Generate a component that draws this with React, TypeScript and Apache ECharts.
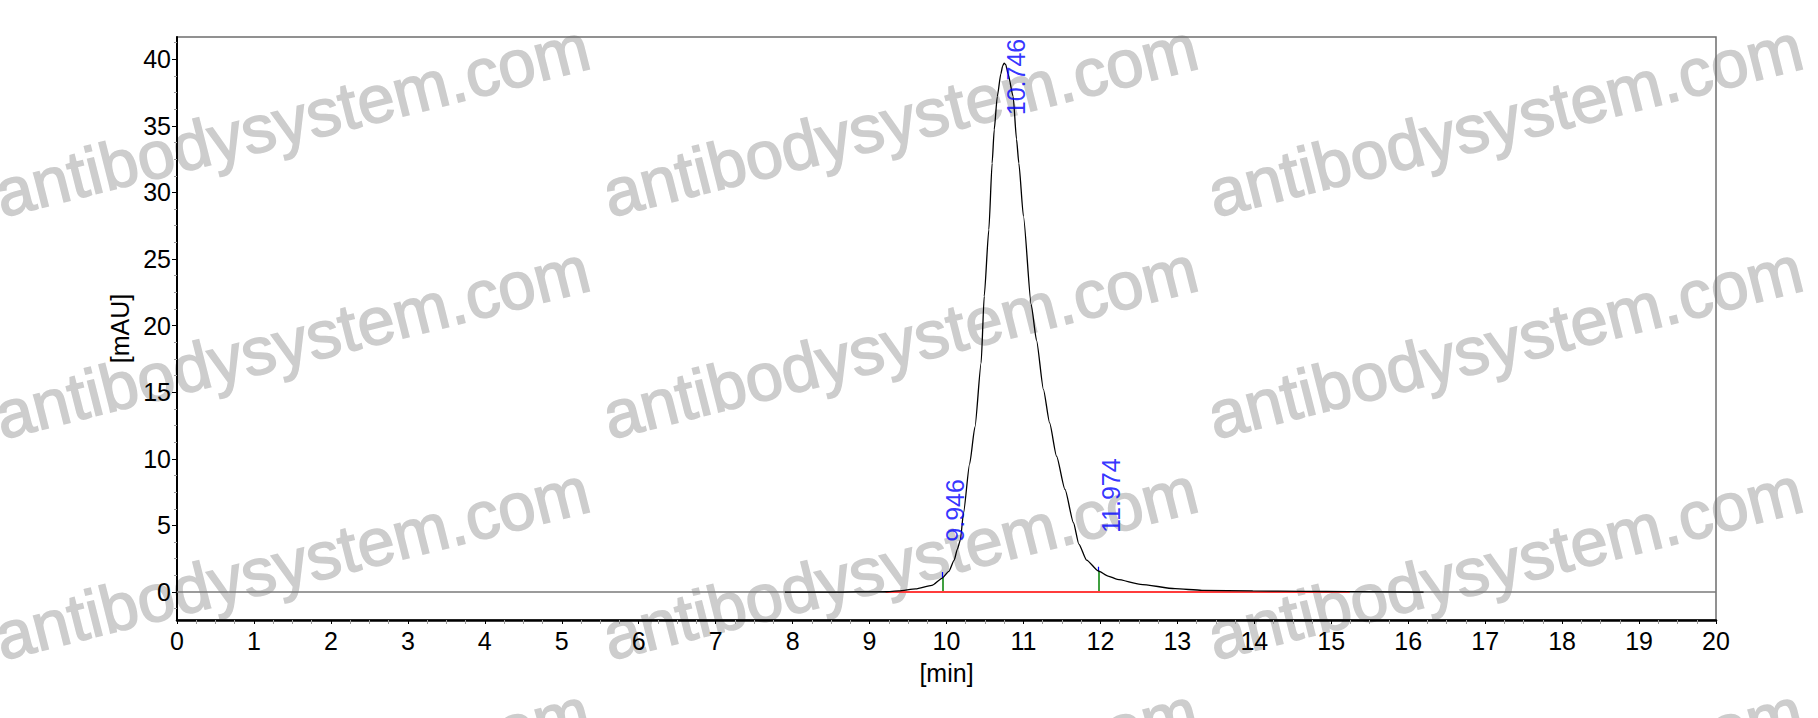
import React, { useEffect, useRef } from "react";
import * as echarts from "echarts";

// ---- data ----
const timeMin = [
  7.9, 8.3, 8.65, 9.0, 9.21, 9.38, 9.6, 9.81, 9.946, 10.03, 10.1, 10.14, 10.18,
  10.22, 10.3, 10.37, 10.45, 10.49, 10.55, 10.593, 10.62, 10.66, 10.706, 10.73,
  10.749, 10.77, 10.8, 10.866, 10.91, 10.94, 11.0, 11.1, 11.17, 11.26, 11.34,
  11.43, 11.54, 11.65, 11.72, 11.82, 11.974, 12.1, 12.22, 12.52, 12.97, 13.32,
  13.98, 14.63, 15.23, 16.2,
];
const absorbanceMAU = [
  0, 0, 0, 0.01, 0.02, 0.08, 0.23, 0.5, 1.05, 1.55, 2.4, 3.2, 3.9,
  5.9, 9.6, 12.4, 17.2, 22.2, 27.2, 32.2, 34.7, 37.2, 38.9, 39.5,
  39.7, 39.6, 38.9, 37.2, 34.0, 32.2, 28.2, 21.6, 18.9, 15.2, 12.7,
  10.2, 7.7, 5.2, 3.6, 2.4, 1.58, 1.2, 0.95, 0.58, 0.25, 0.13,
  0.08, 0.05, 0.03, 0,
];

const peakTimes = [9.946, 10.746, 11.974];
const peakLabelY = [3.78, 35.8, 4.43];

const markerTimes = [9.946, 11.974];
const markerHeights = [1.05, 1.58];
const markerTipHeights = [1.5, 1.9];

const baselineStart = [9.21, 0];
const baselineEnd = [15.24, 0];
const zeroLineStart = [0, 0];
const zeroLineEnd = [20, 0];

const xMin = 0;
const xMax = 20;
const yMin = -2.1;
const yMax = 41.67;
const yTickValues = [0, 5, 10, 15, 20, 25, 30, 35, 40];

const watermarkText = "antibodysystem.com";
const watermarkCols = [2, 610, 1215];
const watermarkRows = [218, 440, 661, 882];

const FONT = "'Liberation Sans', Arial, Helvetica, sans-serif";

export default function App() {
  const ref = useRef<HTMLDivElement>(null);

  useEffect(() => {
    if (!ref.current) return;
    const chart = echarts.init(ref.current, undefined, { renderer: "svg" });

    const curve = timeMin.map((t, i) => [t, absorbanceMAU[i]]);
    const yMinorTicks: number[] = [];
    for (let i = 0; i < yTickValues.length; i++) {
      const v = yTickValues[i];
      for (const f of [-3.75, -2.5, -1.25, 1.25, 2.5, 3.75]) {
        const m = v + f;
        if (m > yMin && m < yMax && !yMinorTicks.includes(m) && !yTickValues.includes(m)) yMinorTicks.push(m);
      }
    }

    const markLineData: any[] = [];
    markerTimes.forEach((t, i) => {
      markLineData.push([
        { coord: [t, 0], lineStyle: { color: "#008000", width: 1.5, type: "solid" } },
        { coord: [t, markerHeights[i]] },
      ]);
      markLineData.push([
        { coord: [t, markerHeights[i]], lineStyle: { color: "#0000ff", width: 1.2, type: "solid" } },
        { coord: [t, markerTipHeights[i]] },
      ]);
    });

    const graphics: any[] = [];
    watermarkRows.forEach((ry) => {
      watermarkCols.forEach((cx) => {
        graphics.push({
          type: "text",
          x: cx,
          y: ry,
          rotation: (14.2 * Math.PI) / 180,
          silent: true,
          z: -10,
          style: {
            text: watermarkText,
            x: 0,
            y: -24,
            fontSize: 67,
            fontFamily: FONT,
            fill: "#cdcdcd",
            stroke: "#cdcdcd",
            lineWidth: 1.6,
            align: "left",
            verticalAlign: "middle",
          },
        });
      });
    });

    const option: any = {
      animation: false,
      backgroundColor: "#ffffff",
      textStyle: { fontFamily: FONT },
      grid: {
        left: 177,
        right: 102,
        top: 37,
        bottom: 98,
        show: true,
        borderColor: "#6e6e6e",
        borderWidth: 1.5,
        backgroundColor: "transparent",
      },
      xAxis: {
        type: "value",
        min: xMin,
        max: xMax,
        interval: 1,
        z: 50,
        axisLine: { show: true, onZero: false, lineStyle: { color: "#000", width: 2.5 } },
        axisTick: { show: true, length: 4, lineStyle: { color: "#000", width: 1 } },
        minorTick: { show: true, splitNumber: 4, length: 4, lineStyle: { color: "#999", width: 1 } },
        axisLabel: { fontSize: 25, color: "#000", margin: 8, fontFamily: FONT },
        splitLine: { show: false },
        minorSplitLine: { show: false },
        name: "[min]",
        nameLocation: "middle",
        nameGap: 40,
        nameTextStyle: { fontSize: 25, color: "#000", fontFamily: FONT },
      },
      yAxis: [
        {
          type: "value",
          min: yMin,
          max: yMax,
          z: 50,
          axisLine: { show: true, onZero: false, lineStyle: { color: "#000", width: 2 } },
          axisTick: { show: true, length: 5, customValues: yTickValues, lineStyle: { color: "#000", width: 1 } },
          axisLabel: { fontSize: 25, color: "#000", margin: 6, fontFamily: FONT, customValues: yTickValues },
          splitLine: { show: false },
          name: "[mAU]",
          nameLocation: "middle",
          nameGap: 43,
          nameRotate: 90,
          nameTextStyle: { fontSize: 25, color: "#000", fontFamily: FONT },
        },
        {
          type: "value",
          min: yMin,
          max: yMax,
          position: "left",
          offset: 0,
          z: 50,
          axisLine: { show: false, onZero: false },
          axisTick: { show: true, length: 3, customValues: yMinorTicks, lineStyle: { color: "#999", width: 1 } },
          axisLabel: { show: false },
          splitLine: { show: false },
        },
      ],
      series: [
        {
          type: "line",
          data: [zeroLineStart, zeroLineEnd],
          symbol: "none",
          silent: true,
          lineStyle: { color: "#7a7a7a", width: 1.5 },
          z: 101,
        },
        {
          type: "line",
          data: [baselineStart, baselineEnd],
          symbol: "none",
          silent: true,
          lineStyle: { color: "#ff3c3c", width: 2 },
          z: 102,
        },
        {
          type: "line",
          data: curve,
          symbol: "none",
          smooth: 0.2,
          smoothMonotone: "x",
          silent: true,
          lineStyle: { color: "#000", width: 1.3 },
          z: 103,
          markLine: {
            silent: true,
            symbol: ["none", "none"],
            label: { show: false },
            data: markLineData,
          },
        },
        {
          type: "scatter",
          data: peakTimes.map((t, i) => [t, peakLabelY[i]]),
          symbolSize: 1,
          silent: true,
          itemStyle: { color: "rgba(0,0,0,0)" },
          z: 105,
          label: {
            show: true,
            position: "inside",
            formatter: (p: any) => Number(p.value[0]).toFixed(3),
            rotate: 90,
            align: "left",
            verticalAlign: "top",
            color: "#0000ff",
            fontSize: 25,
            fontFamily: FONT,
          },
        },
      ],
      graphic: graphics,
    };

    chart.setOption(option);
    return () => chart.dispose();
  }, []);

  return (
    <div
      ref={ref}
      style={{ position: "fixed", left: 0, top: 0, width: 1818, height: 718, background: "#fff" }}
    />
  );
}
